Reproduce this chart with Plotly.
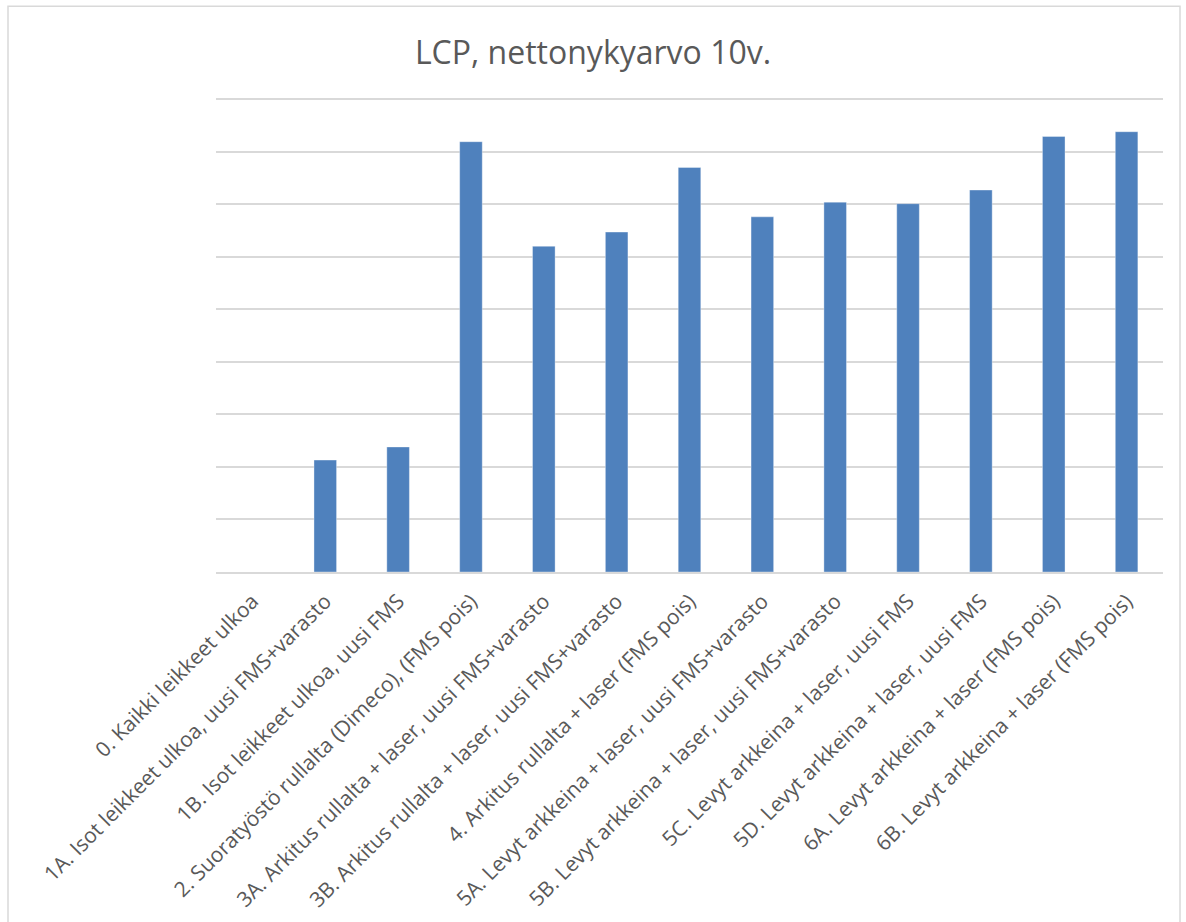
import plotly.graph_objects as go

categories = [
    "0. Kaikki leikkeet ulkoa",
    "1A. Isot leikkeet ulkoa, uusi FMS+varasto",
    "1B. Isot leikkeet ulkoa, uusi FMS",
    "2. Suoratyöstö rullalta (Dimeco), (FMS pois)",
    "3A. Arkitus rullalta + laser, uusi FMS+varasto",
    "3B. Arkitus rullalta + laser, uusi FMS+varasto",
    "4. Arkitus rullalta + laser (FMS pois)",
    "5A. Levyt arkkeina + laser, uusi FMS+varasto",
    "5B. Levyt arkkeina + laser, uusi FMS+varasto",
    "5C. Levyt arkkeina + laser, uusi FMS",
    "5D. Levyt arkkeina + laser, uusi FMS",
    "6A. Levyt arkkeina + laser (FMS pois)",
    "6B. Levyt arkkeina + laser (FMS pois)",
]
values = [0, 2.13, 2.38, 8.19, 6.20, 6.47, 7.70, 6.76, 7.04, 7.01, 7.27, 8.29, 8.38]

W, H = 1186, 922
L, R, B = 216, 1163, 572
GRID_TOP = 99          # pixel row of the y=9 gridline
YTOP = 9
PPU = (B - GRID_TOP) / YTOP
YMAX = 9.06
T = B - YMAX * PPU

fig = go.Figure(go.Bar(
    x=categories, y=values,
    marker=dict(color="#4F81BD", line=dict(color="rgba(255,255,255,0.6)", width=0.6)),
    width=0.31,
))

def px_x(p):
    return (p - L) / (R - L)

def px_y(p):
    return (B - p) / (B - T)

fig.update_layout(
    width=W, height=H,
    margin=dict(l=L, r=W - R, t=T, b=H - B, autoexpand=False),
    paper_bgcolor="white", plot_bgcolor="white",
    showlegend=False,
    title=dict(text="LCP, nettonykyarvo 10v.", x=0.5, xanchor="center",
               y=1 - 53 / H, yanchor="middle",
               font=dict(family="Open Sans", size=32, color="#595959")),
    font=dict(family="Open Sans", color="#595959"),
    xaxis=dict(tickangle=-45, tickfont=dict(size=21, color="#595959"),
               showgrid=False, showline=True, linecolor="#D9D9D9", linewidth=1.5,
               ticks="", ticklabelstandoff=7, automargin=False),
    yaxis=dict(range=[0, YMAX], tickmode="linear", tick0=0, dtick=1,
               showticklabels=False, showgrid=True,
               gridcolor="#D9D9D9", gridwidth=1.5, zeroline=False, ticks=""),
    shapes=[dict(type="rect", xref="paper", yref="paper",
                 x0=px_x(8), x1=px_x(1180), y0=px_y(925), y1=px_y(6),
                 line=dict(color="#D9D9D9", width=1.5), fillcolor="rgba(0,0,0,0)",
                 layer="below")],
)

fig.write_html("out.html")
